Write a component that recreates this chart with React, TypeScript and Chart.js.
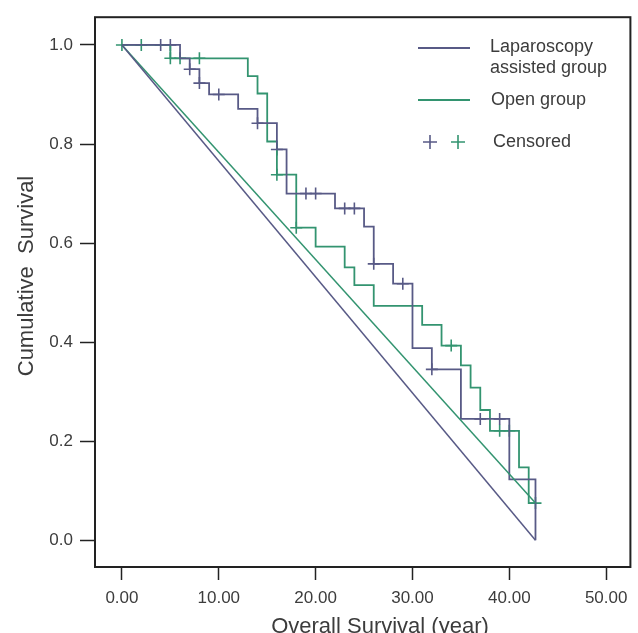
import React, { useEffect, useRef } from "react";
import { Chart, registerables } from "chart.js";

Chart.register(...registerables);

const PURPLE = "#585a86";
const GREEN = "#339470";
const TEXT = "#3c3c3c";
const FONT = "'Liberation Sans', Arial, sans-serif";

// Laparoscopy assisted group (Kaplan-Meier steps)
const lapTimes = [0, 6, 7, 8, 9, 12, 14, 16, 17, 22, 25, 26, 28, 30, 32, 35, 40, 42.7];
const lapSurvival = [1.0, 0.973, 0.951, 0.923, 0.9, 0.871, 0.842, 0.789, 0.7, 0.67, 0.633, 0.558, 0.518, 0.388, 0.345, 0.245, 0.123, 0.0];
const lapCensorTimes = [4, 5, 7, 8, 10, 14, 16, 19, 20, 23, 24, 26, 29, 32, 37, 39];
const lapCensorSurvival = [1.0, 1.0, 0.951, 0.923, 0.9, 0.842, 0.789, 0.7, 0.7, 0.67, 0.67, 0.558, 0.518, 0.345, 0.245, 0.245];

// Open group
const openTimes = [0, 5, 13, 14, 15, 16, 18, 20, 23, 24, 26, 31, 33, 35, 36, 37, 38, 41, 42, 42.7];
const openSurvival = [1.0, 0.973, 0.937, 0.902, 0.805, 0.738, 0.631, 0.593, 0.551, 0.515, 0.473, 0.435, 0.393, 0.353, 0.308, 0.263, 0.221, 0.147, 0.075, 0.075];
const openCensorTimes = [0, 2, 5, 6, 8, 16, 18, 34, 39, 40, 42.7];
const openCensorSurvival = [1.0, 1.0, 0.973, 0.973, 0.973, 0.738, 0.631, 0.393, 0.221, 0.221, 0.075];

const xTickValues = [0, 10, 20, 30, 40, 50];
const yTickValues = [0, 0.2, 0.4, 0.6, 0.8, 1.0];

const xTitle = "Overall Survival (year)";
const yTitle = "Cumulative  Survival";
const legendLap = ["Laparoscopy", "assisted group"];
const legendOpen = "Open group";
const legendCensored = "Censored";

const pts = (xs: number[], ys: number[]) => xs.map((x, i) => ({ x, y: ys[i] }));
const diag = (xs: number[], ys: number[]) => [
  { x: xs[0], y: ys[0] },
  { x: xs[xs.length - 1], y: ys[ys.length - 1] },
];

const decorPlugin = {
  id: "decor",
  afterDraw(chart: any) {
    const { ctx, chartArea: a } = chart;
    ctx.save();
    // frame
    ctx.strokeStyle = "#222";
    ctx.lineWidth = 2;
    ctx.strokeRect(a.left, a.top, a.right - a.left, a.bottom - a.top);

    // legend
    ctx.lineWidth = 1.8;
    ctx.strokeStyle = PURPLE;
    ctx.beginPath();
    ctx.moveTo(418, 48);
    ctx.lineTo(470, 48);
    ctx.stroke();
    ctx.strokeStyle = GREEN;
    ctx.beginPath();
    ctx.moveTo(418, 100);
    ctx.lineTo(470, 100);
    ctx.stroke();

    const cross = (x: number, y: number, c: string) => {
      ctx.strokeStyle = c;
      ctx.lineWidth = 1.6;
      ctx.beginPath();
      ctx.moveTo(x - 7, y);
      ctx.lineTo(x + 7, y);
      ctx.moveTo(x, y - 7);
      ctx.lineTo(x, y + 7);
      ctx.stroke();
    };
    cross(430, 142, PURPLE);
    cross(458, 142, GREEN);

    ctx.fillStyle = TEXT;
    ctx.font = `18px ${FONT}`;
    ctx.textAlign = "left";
    ctx.textBaseline = "middle";
    ctx.fillText(legendLap[0], 490, 47);
    ctx.fillText(legendLap[1], 490, 68);
    ctx.fillText(legendOpen, 491, 100);
    ctx.fillText(legendCensored, 493, 142);

    // axis titles
    ctx.font = `22px ${FONT}`;
    ctx.textAlign = "center";
    ctx.textBaseline = "alphabetic";
    ctx.fillText(xTitle, 380, 633);

    ctx.save();
    ctx.translate(33, 276);
    ctx.rotate(-Math.PI / 2);
    ctx.textBaseline = "alphabetic";
    ctx.fillText(yTitle, 0, 0);
    ctx.restore();

    ctx.restore();
  },
};

export default function App() {
  const ref = useRef<HTMLCanvasElement | null>(null);

  useEffect(() => {
    if (!ref.current) return;
    const lineBase = {
      showLine: true,
      pointRadius: 0,
      borderWidth: 1.8,
      fill: false,
    };
    const chart = new Chart(ref.current, {
      type: "scatter",
      data: {
        datasets: [
          {
            ...lineBase,
            label: "Laparoscopy diag",
            data: diag(lapTimes, lapSurvival),
            borderColor: PURPLE,
            borderWidth: 1.5,
          },
          {
            ...lineBase,
            label: "Open diag",
            data: diag(openTimes, openSurvival),
            borderColor: GREEN,
            borderWidth: 1.5,
          },
          {
            ...lineBase,
            label: "Laparoscopy assisted group",
            data: pts(lapTimes, lapSurvival),
            borderColor: PURPLE,
            stepped: "before",
          },
          {
            ...lineBase,
            label: "Open group",
            data: pts(openTimes, openSurvival),
            borderColor: GREEN,
            stepped: "before",
          },
          {
            label: "Lap censored",
            data: pts(lapCensorTimes, lapCensorSurvival),
            showLine: false,
            pointStyle: "cross",
            pointRadius: 6,
            borderWidth: 1.6,
            borderColor: PURPLE,
            backgroundColor: PURPLE,
          },
          {
            label: "Open censored",
            data: pts(openCensorTimes, openCensorSurvival),
            showLine: false,
            pointStyle: "cross",
            pointRadius: 6,
            borderWidth: 1.6,
            borderColor: GREEN,
            backgroundColor: GREEN,
          },
        ] as any,
      },
      options: {
        responsive: false,
        animation: false,
        events: [],
        layout: { padding: { top: 13, right: 6, left: 0, bottom: 0 } },
        plugins: {
          legend: { display: false },
          tooltip: { enabled: false },
          title: { display: false },
        },
        scales: {
          x: {
            type: "linear",
            min: -2.78,
            max: 52.5,
            afterFit: (s: any) => {
              s.height = 66;
            },
            afterBuildTicks: (s: any) => {
              s.ticks = xTickValues.map((v) => ({ value: v }));
            },
            grid: {
              display: true,
              drawOnChartArea: false,
              drawTicks: true,
              tickLength: 13,
              tickColor: "#222",
              tickWidth: 1.5,
            },
            border: { display: false },
            ticks: {
              autoSkip: false,
              maxRotation: 0,
              padding: 8,
              color: TEXT,
              font: { family: FONT, size: 17 },
              callback: (v: any) => Number(v).toFixed(2),
            },
          },
          y: {
            type: "linear",
            min: -0.054,
            max: 1.056,
            afterFit: (s: any) => {
              s.width = 95;
            },
            afterBuildTicks: (s: any) => {
              s.ticks = yTickValues.map((v) => ({ value: v }));
            },
            grid: {
              display: true,
              drawOnChartArea: false,
              drawTicks: true,
              tickLength: 15,
              tickColor: "#222",
              tickWidth: 1.5,
            },
            border: { display: false },
            ticks: {
              autoSkip: false,
              padding: 7,
              color: TEXT,
              font: { family: FONT, size: 17 },
              callback: (v: any) => Number(v).toFixed(1),
            },
          },
        },
      },
      plugins: [decorPlugin],
    } as any);
    return () => chart.destroy();
  }, []);

  return (
    <div style={{ position: "absolute", left: 0, top: 0, width: 638, height: 633, background: "#fff" }}>
      <canvas ref={ref} width={638} height={633} style={{ width: 638, height: 633, display: "block" }} />
    </div>
  );
}
